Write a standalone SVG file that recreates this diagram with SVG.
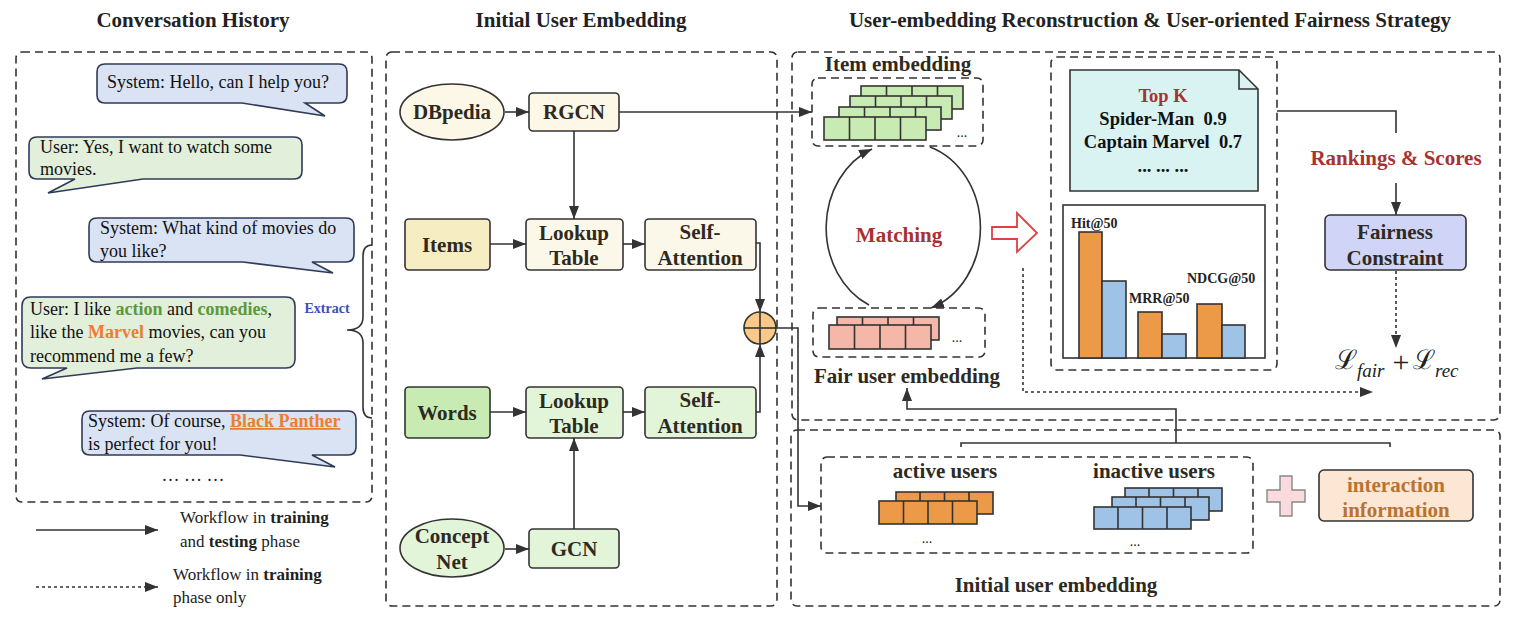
<svg xmlns="http://www.w3.org/2000/svg" width="1517" height="620" viewBox="0 0 1517 620">
<defs>
<marker id="ah" markerUnits="userSpaceOnUse" markerWidth="14" markerHeight="12" refX="13" refY="5" orient="auto">
<path d="M0,0 L13,5 L0,10 Z" fill="#333"/>
</marker>
<style>
text{font-family:"Liberation Serif","Times New Roman",serif;fill:#222}
.title{font-size:21px;font-weight:bold;text-anchor:middle}
.bub{font-size:18px;fill:#111}
.node{font-size:21px;font-weight:bold;text-anchor:middle;fill:#2e2a22}
.box{stroke:#333;stroke-width:1.6}
.dash{fill:none;stroke:#333;stroke-width:1.6;stroke-dasharray:8 5}
.line{fill:none;stroke:#333;stroke-width:1.6}
.dot{fill:none;stroke:#333;stroke-width:1.6;stroke-dasharray:3 3}
.bb{fill:#dae3f3;stroke:#2f3b58;stroke-width:1.6}
.bg{fill:#e2efda;stroke:#2f3b58;stroke-width:1.6}
.cell{stroke:#333;stroke-width:1.6}
.leg{font-size:17px}
.doc{font-size:18.5px;font-weight:bold;text-anchor:middle;fill:#111;white-space:pre}
</style>
</defs>

<!-- titles -->
<text class="title" x="193" y="27">Conversation History</text>
<text class="title" x="581" y="27">Initial User Embedding</text>
<text class="title" x="1150" y="27">User-embedding Reconstruction &amp; User-oriented Fairness Strategy</text>

<!-- panels -->
<g id="panel-conversation">
<rect x="16" y="52" width="356" height="450" rx="6" class="dash"/>
</g>
<g id="panel-initial">
<rect x="386" y="52" width="391" height="554" rx="6" fill="#f7f9fd" class="dash"/>
</g>
<g id="panel-reconstruction">
<rect x="792" y="52" width="708" height="368" rx="6" fill="#fdf9f6" class="dash"/>
</g>
<g id="panel-initial-user">
<rect x="791" y="430" width="709" height="176" rx="6" fill="#f3f8f8" class="dash"/>
</g>

<!-- bubbles -->
<g id="bubble1">
<path class="bb" d="M105,64 H339 Q347,64 347,72 V95 Q347,103 339,103 H305 L325,116 L242,103 H105 Q97,103 97,95 V72 Q97,64 105,64 Z"/>
<text class="bub" x="107" y="88">System: Hello, can I help you?</text>
</g>
<g id="bubble2">
<path class="bg" d="M37,137 H294 Q302,137 302,145 V171 Q302,179 294,179 H143 L48,193 L75,179 H37 Q29,179 29,171 V145 Q29,137 37,137 Z"/>
<text class="bub" x="40" y="153">User: Yes, I want to watch some</text>
<text class="bub" x="40" y="175">movies.</text>
</g>
<g id="bubble3">
<path class="bb" d="M97,218 H346 Q354,218 354,226 V254 Q354,262 346,262 H312 L333,273 L243,262 H97 Q89,262 89,254 V226 Q89,218 97,218 Z"/>
<text class="bub" x="100" y="234">System: What kind of movies do</text>
<text class="bub" x="100" y="257">you like?</text>
</g>
<g id="bubble4">
<path class="bg" d="M31,297 H286 Q295,297 295,306 V359 Q295,368 286,368 H137 L42,379 L67,368 H31 Q22,368 22,359 V306 Q22,297 31,297 Z"/>
<text class="bub" x="30" y="315" style="white-space:pre">User: I like <tspan font-weight="bold" fill="#5a9a3a">action</tspan> and <tspan font-weight="bold" fill="#5a9a3a">comedies</tspan>,</text>
<text class="bub" x="30" y="338" style="white-space:pre">like the <tspan font-weight="bold" fill="#ed7d31">Marvel</tspan> movies, can you</text>
<text class="bub" x="30" y="362">recommend me a few?</text>
</g>
<g id="bubble5">
<path class="bb" d="M90,411 H348 Q356,411 356,419 V447 Q356,455 348,455 H312 L335,467 L240,455 H90 Q82,455 82,447 V419 Q82,411 90,411 Z"/>
<text class="bub" x="88" y="427" style="white-space:pre">System: Of course, <tspan font-weight="bold" fill="#ed7d31" text-decoration="underline">Black Panther</tspan></text>
<text class="bub" x="88" y="450">is perfect for you!</text>
</g>
<text x="193" y="481" font-size="18" text-anchor="middle">… … …</text>

<g id="extract">
<path class="line" d="M372,245 Q363,245 363,256 V317 Q363,330 347,330 Q363,330 363,343 V407 Q363,418 372,418"/>
<text x="327" y="313" font-size="14" font-weight="bold" text-anchor="middle" style="fill:#3b4fb8">Extract</text>
</g>

<!-- legend -->
<g id="legend">
<line x1="36" y1="530" x2="158" y2="530" class="line" marker-end="url(#ah)"/>
<text class="leg" x="180" y="523">Workflow in <tspan font-weight="bold">training</tspan></text>
<text class="leg" x="180" y="547">and <tspan font-weight="bold">testing</tspan> phase</text>
<line x1="36" y1="587" x2="158" y2="587" class="dot" marker-end="url(#ah)"/>
<text class="leg" x="173" y="580">Workflow in <tspan font-weight="bold">training</tspan></text>
<text class="leg" x="173" y="603">phase only</text>
</g>

<!-- middle nodes -->
<g id="dbpedia">
<ellipse cx="452" cy="112" rx="52" ry="28" fill="#fcf7e6" class="box"/>
<text class="node" x="452" y="119">DBpedia</text>
</g>
<g id="rgcn">
<rect x="529" y="93" width="90" height="38" rx="4" fill="#fcf7e6" class="box"/>
<text class="node" x="574" y="119">RGCN</text>
</g>
<g id="items">
<rect x="405" y="219" width="85" height="51" rx="4" fill="#f6edc2" class="box"/>
<text class="node" x="447" y="252">Items</text>
</g>
<g id="lookup1">
<rect x="526" y="219" width="97" height="51" rx="4" fill="#fcf8e9" class="box"/>
<text class="node" x="574" y="240">Lookup</text>
<text class="node" x="574" y="265">Table</text>
</g>
<g id="selfatt1">
<rect x="645" y="219" width="111" height="51" rx="4" fill="#fcf8e9" class="box"/>
<text class="node" x="700" y="239">Self-</text>
<text class="node" x="700" y="265">Attention</text>
</g>
<g id="words">
<rect x="405" y="387" width="85" height="51" rx="4" fill="#c8ebb3" class="box"/>
<text class="node" x="447" y="420">Words</text>
</g>
<g id="lookup2">
<rect x="526" y="387" width="97" height="51" rx="4" fill="#e3f5d9" class="box"/>
<text class="node" x="574" y="408">Lookup</text>
<text class="node" x="574" y="433">Table</text>
</g>
<g id="selfatt2">
<rect x="645" y="387" width="111" height="51" rx="4" fill="#e3f5d9" class="box"/>
<text class="node" x="700" y="407">Self-</text>
<text class="node" x="700" y="433">Attention</text>
</g>
<g id="conceptnet">
<ellipse cx="452" cy="548" rx="52" ry="29" fill="#e3f5d9" class="box"/>
<text class="node" x="452" y="543">Concept</text>
<text class="node" x="452" y="569">Net</text>
</g>
<g id="gcn">
<rect x="529" y="529" width="90" height="39" rx="4" fill="#e3f5d9" class="box"/>
<text class="node" x="574" y="556">GCN</text>
</g>
<g id="plus">
<circle cx="760" cy="328" r="16" fill="#f9c98a" class="box"/>
<line x1="744" y1="328" x2="776" y2="328" class="line"/>
<line x1="760" y1="312" x2="760" y2="344" class="line"/>
</g>

<!-- item embedding -->
<g id="item-embedding">
<text class="node" x="898" y="71">Item embedding</text>
<rect x="812" y="78" width="171" height="68" rx="6" class="dash"/>
<g fill="#c8ebb3">
<rect x="861" y="86" width="102" height="23" class="cell"/>
<path d="M886.5,86 V109 M912,86 V109 M937.5,86 V109" class="cell"/>
<rect x="850" y="96" width="102" height="23" class="cell"/>
<path d="M875.5,96 V119 M901,96 V119 M926.5,96 V119" class="cell"/>
<rect x="839" y="107" width="102" height="23" class="cell"/>
<path d="M864.5,107 V130 M890,107 V130 M915.5,107 V130" class="cell"/>
<rect x="824" y="117" width="102" height="23" class="cell"/>
<path d="M849.5,117 V140 M875,117 V140 M900.5,117 V140" class="cell"/>
</g>
<text x="962" y="137" font-size="14" text-anchor="middle">...</text>
</g>

<g id="fair-user-embedding">
<rect x="813" y="308" width="172" height="49" rx="6" class="dash"/>
<g fill="#f5b7a8">
<rect x="837" y="317" width="102" height="23" class="cell"/>
<path d="M862.5,317 V340 M888,317 V340 M913.5,317 V340" class="cell"/>
<rect x="829" y="325" width="102" height="24" class="cell"/>
<path d="M854.5,325 V349 M880,325 V349 M905.5,325 V349" class="cell"/>
</g>
<text x="957" y="342" font-size="14" text-anchor="middle">...</text>
<text class="node" x="907" y="383">Fair user embedding</text>
</g>

<g id="matching">
<path d="M869,305 A73.5 85 0 0 1 872,149" class="line" marker-end="url(#ah)"/>
<path d="M930,147 A73.5 85 0 0 1 931,308" class="line" marker-end="url(#ah)"/>
<text class="node" x="899" y="242" style="fill:#a83232">Matching</text>
</g>

<g id="hollow-arrow">
<path d="M992,227 H1017 V213 L1037,233 L1017,252 V239 H992 Z" fill="#fff" stroke="#e04040" stroke-width="1.8"/>
</g>

<!-- results -->
<g id="results">
<rect x="1051" y="57" width="226" height="313" rx="6" class="dash"/>
<path d="M1070,70 H1239 L1258,89 V191 H1070 Z" fill="#d9f3f3" class="box"/>
<path d="M1239,70 V89 H1258" class="line"/>
<text class="doc" x="1163" y="102" style="fill:#a83232">Top K</text>
<text class="doc" x="1163" y="125">Spider-Man  0.9</text>
<text class="doc" x="1163" y="148">Captain Marvel  0.7</text>
<text class="doc" x="1163" y="172">... ... ...</text>
<rect x="1063" y="205" width="202" height="153" fill="#fff" class="box"/>
<g class="cell">
<rect x="1079" y="232" width="23" height="126" fill="#ed9a48"/>
<rect x="1102" y="281" width="24" height="77" fill="#9fc3e6"/>
<rect x="1138" y="312" width="24" height="46" fill="#ed9a48"/>
<rect x="1162" y="334" width="24" height="24" fill="#9fc3e6"/>
<rect x="1197" y="304" width="25" height="54" fill="#ed9a48"/>
<rect x="1222" y="325" width="23" height="33" fill="#9fc3e6"/>
</g>
<text x="1071" y="228" font-size="14" font-weight="bold" fill="#333">Hit@50</text>
<text x="1129" y="303" font-size="14" font-weight="bold" fill="#333">MRR@50</text>
<text x="1187" y="283" font-size="14" font-weight="bold" fill="#333">NDCG@50</text>
</g>

<g id="rankings">
<text class="node" x="1396" y="165" style="fill:#a83232">Rankings &amp; Scores</text>
</g>
<g id="fairness">
<rect x="1325" y="215" width="141" height="55" rx="5" fill="#d0d4f7" class="box"/>
<text class="node" x="1395" y="239">Fairness</text>
<text class="node" x="1395" y="265">Constraint</text>
</g>
<g id="loss">
<text x="1335" y="369" font-size="27" style="font-family:'DejaVu Serif',serif">ℒ</text>
<text x="1357" y="377" font-size="19" font-style="italic">fair</text>
<text x="1401" y="372" font-size="30" text-anchor="middle">+</text>
<text x="1413" y="369" font-size="27" style="font-family:'DejaVu Serif',serif">ℒ</text>
<text x="1435" y="377" font-size="19" font-style="italic">rec</text>
</g>

<!-- bottom panel -->
<g id="users">
<rect x="821" y="457" width="432" height="96" rx="6" class="dash"/>
<text class="node" x="945" y="478">active users</text>
<text class="node" x="1154" y="478">inactive users</text>
<g fill="#ed9a48">
<rect x="896" y="492" width="97" height="22" class="cell"/>
<path d="M920,492 V514 M944.5,492 V514 M969,492 V514" class="cell"/>
<rect x="879" y="501" width="98" height="23" class="cell"/>
<path d="M903.5,501 V524 M928,501 V524 M952.5,501 V524" class="cell"/>
</g>
<g fill="#9fc3e6">
<rect x="1125" y="488" width="97" height="23" class="cell"/>
<path d="M1149,488 V511 M1173.5,488 V511 M1198,488 V511" class="cell"/>
<rect x="1112" y="497" width="97" height="23" class="cell"/>
<path d="M1136,497 V520 M1160.5,497 V520 M1185,497 V520" class="cell"/>
<rect x="1094" y="507" width="97" height="22" class="cell"/>
<path d="M1118,507 V529 M1142.5,507 V529 M1167,507 V529" class="cell"/>
</g>
<text x="927" y="543" font-size="14" text-anchor="middle">...</text>
<text x="1135" y="546" font-size="14" text-anchor="middle">...</text>
</g>
<g id="plus-sign">
<path d="M1280,476 H1292 V490 H1305 V502 H1292 V516 H1280 V502 H1267 V490 H1280 Z" fill="#fadadd" stroke="#888" stroke-width="1.4"/>
</g>
<g id="interaction">
<rect x="1319" y="470" width="154" height="51" rx="5" fill="#fde6d3" class="box"/>
<text class="node" x="1396" y="492" style="fill:#b87333">interaction</text>
<text class="node" x="1396" y="517" style="fill:#b87333">information</text>
</g>
<text class="node" x="1056" y="592">Initial user embedding</text>

<!-- connectors -->
<g id="connectors">
<line x1="505" y1="112" x2="529" y2="112" class="line" marker-end="url(#ah)"/>
<line x1="619" y1="112" x2="812" y2="112" class="line" marker-end="url(#ah)"/>
<line x1="574" y1="131" x2="574" y2="219" class="line" marker-end="url(#ah)"/>
<line x1="490" y1="244" x2="526" y2="244" class="line" marker-end="url(#ah)"/>
<line x1="623" y1="244" x2="645" y2="244" class="line" marker-end="url(#ah)"/>
<line x1="490" y1="412" x2="526" y2="412" class="line" marker-end="url(#ah)"/>
<line x1="623" y1="412" x2="645" y2="412" class="line" marker-end="url(#ah)"/>
<line x1="505" y1="549" x2="529" y2="549" class="line" marker-end="url(#ah)"/>
<line x1="574" y1="529" x2="574" y2="438" class="line" marker-end="url(#ah)"/>
<path d="M756,243 H760 V312" class="line" marker-end="url(#ah)"/>
<path d="M756,412 H760 V344" class="line" marker-end="url(#ah)"/>
<path d="M776,328 H798 V506 H821" class="line" marker-end="url(#ah)"/>
<path d="M1023,268 V392 H1373" class="dot" marker-end="url(#ah)"/>
<path d="M1277,111 H1396 V133" class="line"/>
<line x1="1396" y1="183" x2="1396" y2="215" class="line" marker-end="url(#ah)"/>
<line x1="1396" y1="271" x2="1396" y2="348" class="dot" marker-end="url(#ah)"/>
<path d="M961,447 V443 H1390 V447" class="line"/>
<path d="M1176,443 V409 H907 V388" class="line" marker-end="url(#ah)"/>
</g>
</svg>
